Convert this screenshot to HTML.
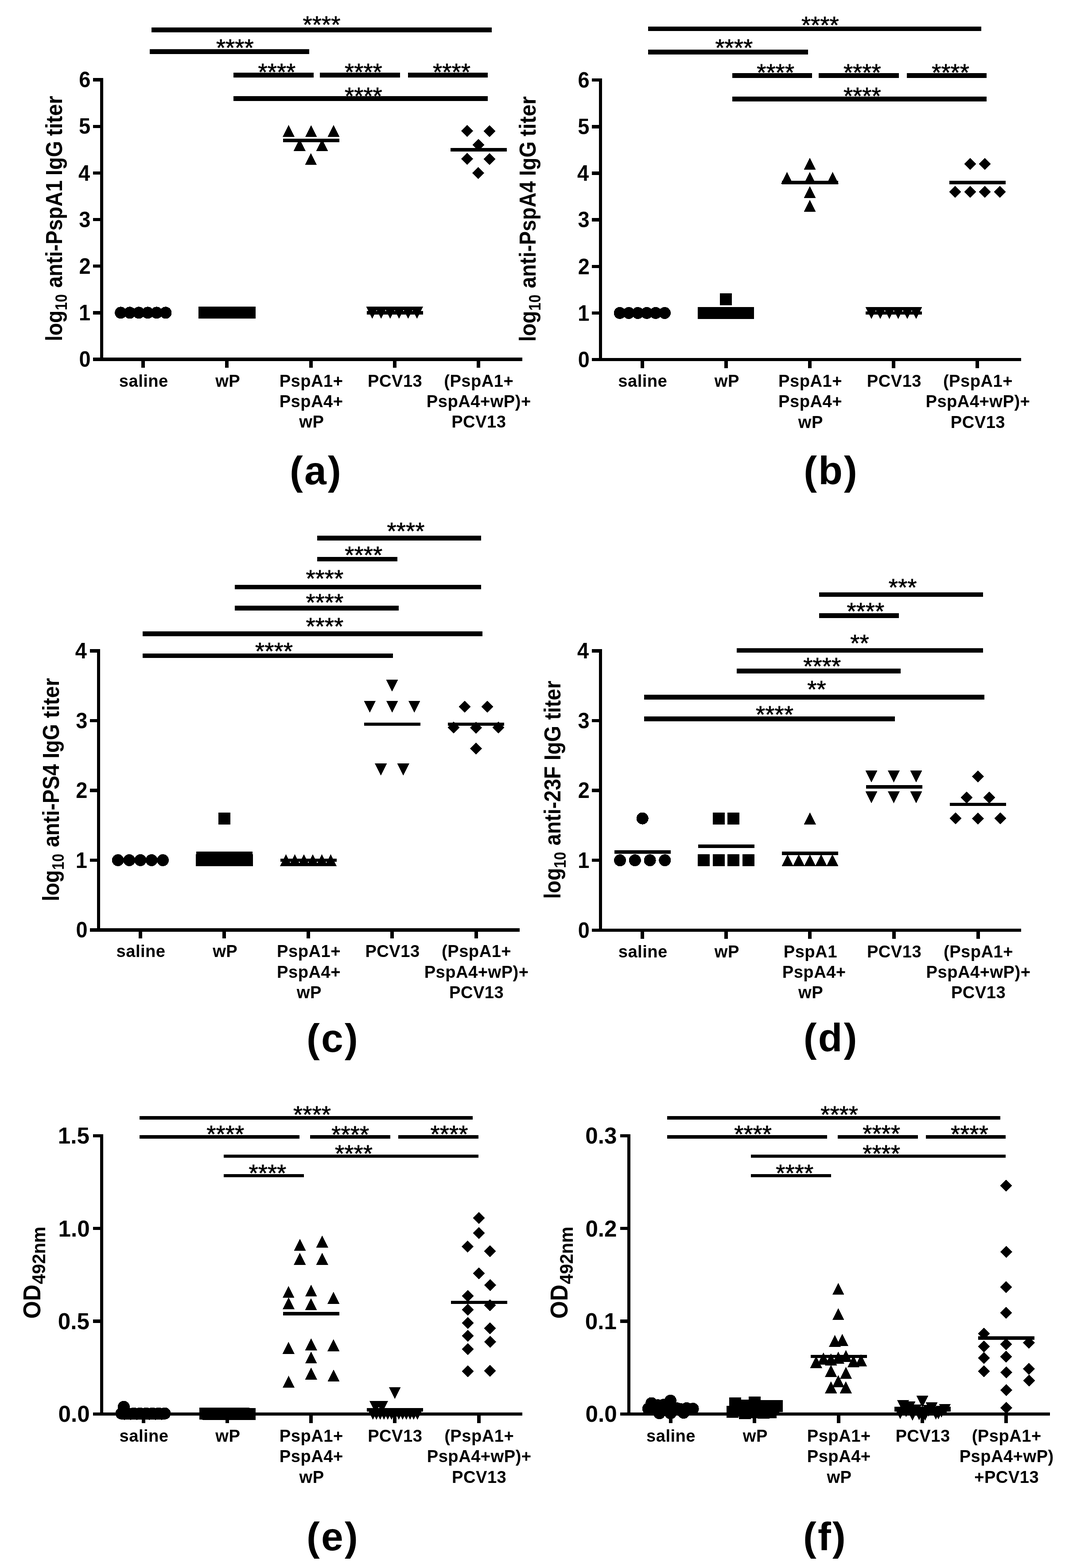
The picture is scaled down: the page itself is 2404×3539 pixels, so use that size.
<!DOCTYPE html>
<html lang="en"><head><meta charset="utf-8"><title>Figure: IgG titers and OD492nm panels (a)-(f)</title>
<style>html,body{margin:0;padding:0;background:#fff}svg{display:block}text{font-family:'Liberation Sans', Arial, Helvetica, sans-serif;font-weight:bold;fill:#000}.xl{letter-spacing:0.45px}.pl{letter-spacing:3.2px}.st{font-weight:normal;stroke:#000;stroke-width:0.8px}</style></head><body>
<svg width="2404" height="3539" viewBox="0 0 2404 3539" shape-rendering="crispEdges">
<rect x="0" y="0" width="2404" height="3539" fill="#fff"/>
<g fill="#000">
<!-- panel a -->
<rect x="225.8" y="176.4" width="7.4" height="638.3"/>
<rect x="210" y="807.3" width="968.8" height="7.4"/>
<rect x="210" y="807.3" width="19.5" height="7.4"/>
<text x="204.73" y="828.2" font-size="50" text-anchor="end" textLength="26.14" lengthAdjust="spacingAndGlyphs">0</text>
<rect x="210" y="702.15" width="19.5" height="7.4"/>
<text x="204.11" y="723.05" font-size="50" text-anchor="end" textLength="26.14" lengthAdjust="spacingAndGlyphs">1</text>
<rect x="210" y="597" width="19.5" height="7.4"/>
<text x="204.68" y="617.9" font-size="50" text-anchor="end" textLength="26.14" lengthAdjust="spacingAndGlyphs">2</text>
<rect x="210" y="491.85" width="19.5" height="7.4"/>
<text x="204.5" y="512.75" font-size="50" text-anchor="end" textLength="26.14" lengthAdjust="spacingAndGlyphs">3</text>
<rect x="210" y="386.7" width="19.5" height="7.4"/>
<text x="203.05" y="407.6" font-size="50" text-anchor="end" textLength="26.14" lengthAdjust="spacingAndGlyphs">4</text>
<rect x="210" y="281.55" width="19.5" height="7.4"/>
<text x="204.11" y="302.45" font-size="50" text-anchor="end" textLength="26.14" lengthAdjust="spacingAndGlyphs">5</text>
<rect x="210" y="176.4" width="19.5" height="7.4"/>
<text x="204.5" y="197.3" font-size="50" text-anchor="end" textLength="26.14" lengthAdjust="spacingAndGlyphs">6</text>
<rect x="319.3" y="811" width="8" height="19.2"/>
<rect x="508.4" y="811" width="8" height="19.2"/>
<rect x="697.6" y="811" width="8" height="19.2"/>
<rect x="886.7" y="811" width="8" height="19.2"/>
<rect x="1075.8" y="811" width="8" height="19.2"/>
<rect x="342" y="62" width="768" height="10.8"/>
<text x="726" y="74.31" font-size="54.5" text-anchor="middle" class="st">****</text>
<rect x="338" y="110.9" width="360" height="10.8"/>
<text x="530.3" y="125.51" font-size="54.5" text-anchor="middle" class="st">****</text>
<rect x="527" y="164" width="181" height="10.8"/>
<text x="624.9" y="181.21" font-size="54.5" text-anchor="middle" class="st">****</text>
<rect x="721.8" y="164" width="181.2" height="10.8"/>
<text x="820.4" y="181.21" font-size="54.5" text-anchor="middle" class="st">****</text>
<rect x="921" y="164" width="180" height="10.8"/>
<text x="1019.5" y="181.21" font-size="54.5" text-anchor="middle" class="st">****</text>
<rect x="527" y="217.4" width="574" height="10.8"/>
<text x="820.4" y="235.21" font-size="54.5" text-anchor="middle" class="st">****</text>
<circle cx="272.7" cy="705.85" r="13.5"/>
<circle cx="292.95" cy="705.85" r="13.5"/>
<circle cx="313.2" cy="705.85" r="13.5"/>
<circle cx="333.45" cy="705.85" r="13.5"/>
<circle cx="353.7" cy="705.85" r="13.5"/>
<circle cx="373.95" cy="705.85" r="13.5"/>
<rect x="448.3" y="692.35" width="27" height="27"/>
<rect x="468.55" y="692.35" width="27" height="27"/>
<rect x="488.8" y="692.35" width="27" height="27"/>
<rect x="509.05" y="692.35" width="27" height="27"/>
<rect x="529.3" y="692.35" width="27" height="27"/>
<rect x="549.55" y="692.35" width="27" height="27"/>
<polygon points="651.5,282.26 665,309.26 638,309.26"/>
<polygon points="702.2,282.26 715.7,309.26 688.7,309.26"/>
<polygon points="752.9,282.26 766.4,309.26 739.4,309.26"/>
<polygon points="676.3,313.81 689.8,340.81 662.8,340.81"/>
<polygon points="726.9,313.81 740.4,340.81 713.4,340.81"/>
<polygon points="701.6,345.36 715.1,372.36 688.1,372.36"/>
<rect x="639.1" y="312.99" width="127" height="7.6"/>
<polygon points="826.6,692.35 853.6,692.35 840.1,719.35"/>
<polygon points="846.85,692.35 873.85,692.35 860.35,719.35"/>
<polygon points="867.1,692.35 894.1,692.35 880.6,719.35"/>
<polygon points="887.35,692.35 914.35,692.35 900.85,719.35"/>
<polygon points="907.6,692.35 934.6,692.35 921.1,719.35"/>
<polygon points="927.85,692.35 954.85,692.35 941.35,719.35"/>
<rect x="827.7" y="702.05" width="127" height="7.6"/>
<polygon points="1054.6,282.26 1068.1,295.76 1054.6,309.26 1041.1,295.76"/>
<polygon points="1105,282.26 1118.5,295.76 1105,309.26 1091.5,295.76"/>
<polygon points="1079.8,313.81 1093.3,327.31 1079.8,340.81 1066.3,327.31"/>
<polygon points="1054.6,345.36 1068.1,358.86 1054.6,372.36 1041.1,358.86"/>
<polygon points="1105,345.36 1118.5,358.86 1105,372.36 1091.5,358.86"/>
<polygon points="1079.8,376.9 1093.3,390.4 1079.8,403.9 1066.3,390.4"/>
<rect x="1017.3" y="334.02" width="127" height="7.6"/>
<text x="324.3" y="872.5" font-size="38.2" text-anchor="middle" class="xl">saline</text>
<text x="514.2" y="872.5" font-size="38.2" text-anchor="middle" class="xl">wP</text>
<text x="702.6" y="872.5" font-size="38.2" text-anchor="middle" class="xl">PspA1+</text>
<text x="702.6" y="918.85" font-size="38.2" text-anchor="middle" class="xl">PspA4+</text>
<text x="703.4" y="965.2" font-size="38.2" text-anchor="middle" class="xl">wP</text>
<text x="891.7" y="872.5" font-size="38.2" text-anchor="middle" class="xl">PCV13</text>
<text x="1080.8" y="872.5" font-size="38.2" text-anchor="middle" class="xl">(PspA1+</text>
<text x="1080.8" y="918.85" font-size="38.2" text-anchor="middle" class="xl">PspA4+wP)+</text>
<text x="1080.8" y="965.2" font-size="38.2" text-anchor="middle" class="xl">PCV13</text>
<text x="713.4" y="1092.5" font-size="89.5" text-anchor="middle" class="pl">(a)</text>
<text transform="translate(140.1 770.12) rotate(-90)" font-size="51.2" text-anchor="start" textLength="69.21" lengthAdjust="spacingAndGlyphs">log</text>
<text transform="translate(151.1 700.26) rotate(-90)" font-size="37.8" text-anchor="start" textLength="36.4" lengthAdjust="spacingAndGlyphs">10</text>
<text transform="translate(140.1 649.46) rotate(-90)" font-size="51.2" text-anchor="start" textLength="242.55" lengthAdjust="spacingAndGlyphs">anti-PspA1</text>
<text transform="translate(140.1 396.24) rotate(-90)" font-size="51.2" text-anchor="start" textLength="78.14" lengthAdjust="spacingAndGlyphs">IgG</text>
<text transform="translate(140.1 306.78) rotate(-90)" font-size="51.2" text-anchor="start" textLength="90.41" lengthAdjust="spacingAndGlyphs">titer</text>
<!-- panel b -->
<rect x="1351.5" y="177" width="7.4" height="638.3"/>
<rect x="1336.2" y="807.9" width="968.6" height="7.4"/>
<rect x="1336.2" y="807.9" width="19" height="7.4"/>
<text x="1330.93" y="828.8" font-size="50" text-anchor="end" textLength="26.14" lengthAdjust="spacingAndGlyphs">0</text>
<rect x="1336.2" y="702.75" width="19" height="7.4"/>
<text x="1330.31" y="723.65" font-size="50" text-anchor="end" textLength="26.14" lengthAdjust="spacingAndGlyphs">1</text>
<rect x="1336.2" y="597.6" width="19" height="7.4"/>
<text x="1330.88" y="618.5" font-size="50" text-anchor="end" textLength="26.14" lengthAdjust="spacingAndGlyphs">2</text>
<rect x="1336.2" y="492.45" width="19" height="7.4"/>
<text x="1330.7" y="513.35" font-size="50" text-anchor="end" textLength="26.14" lengthAdjust="spacingAndGlyphs">3</text>
<rect x="1336.2" y="387.3" width="19" height="7.4"/>
<text x="1329.25" y="408.2" font-size="50" text-anchor="end" textLength="26.14" lengthAdjust="spacingAndGlyphs">4</text>
<rect x="1336.2" y="282.15" width="19" height="7.4"/>
<text x="1330.31" y="303.05" font-size="50" text-anchor="end" textLength="26.14" lengthAdjust="spacingAndGlyphs">5</text>
<rect x="1336.2" y="177" width="19" height="7.4"/>
<text x="1330.7" y="197.9" font-size="50" text-anchor="end" textLength="26.14" lengthAdjust="spacingAndGlyphs">6</text>
<rect x="1445.8" y="811.6" width="8" height="19.2"/>
<rect x="1635" y="811.6" width="8" height="19.2"/>
<rect x="1824" y="811.6" width="8" height="19.2"/>
<rect x="2013.4" y="811.6" width="8" height="19.2"/>
<rect x="2202.4" y="811.6" width="8" height="19.2"/>
<rect x="1463.1" y="59.5" width="752" height="10.8"/>
<text x="1851.3" y="74.81" font-size="54.5" text-anchor="middle" class="st">****</text>
<rect x="1463.1" y="111.9" width="360.5" height="10.8"/>
<text x="1656.8" y="126.01" font-size="54.5" text-anchor="middle" class="st">****</text>
<rect x="1653.1" y="164.8" width="179.7" height="10.8"/>
<text x="1750.6" y="182.01" font-size="54.5" text-anchor="middle" class="st">****</text>
<rect x="1848" y="164.8" width="180.9" height="10.8"/>
<text x="1946.3" y="182.01" font-size="54.5" text-anchor="middle" class="st">****</text>
<rect x="2046.8" y="164.8" width="180.1" height="10.8"/>
<text x="2145.6" y="182.01" font-size="54.5" text-anchor="middle" class="st">****</text>
<rect x="1653.1" y="218.2" width="573.8" height="10.8"/>
<text x="1946.3" y="235.21" font-size="54.5" text-anchor="middle" class="st">****</text>
<circle cx="1399.2" cy="706.45" r="13.5"/>
<circle cx="1419.45" cy="706.45" r="13.5"/>
<circle cx="1439.7" cy="706.45" r="13.5"/>
<circle cx="1459.95" cy="706.45" r="13.5"/>
<circle cx="1480.2" cy="706.45" r="13.5"/>
<circle cx="1500.45" cy="706.45" r="13.5"/>
<rect x="1574.9" y="692.95" width="27" height="27"/>
<rect x="1600" y="692.95" width="27" height="27"/>
<rect x="1625.1" y="692.95" width="27" height="27"/>
<rect x="1650.2" y="692.95" width="27" height="27"/>
<rect x="1675.3" y="692.95" width="27" height="27"/>
<rect x="1624.5" y="662.3" width="27" height="27"/>
<rect x="1576.5" y="697.39" width="124" height="7.6"/>
<polygon points="1828,356.47 1841.5,383.47 1814.5,383.47"/>
<polygon points="1776.7,388.01 1790.2,415.01 1763.2,415.01"/>
<polygon points="1828,388.01 1841.5,415.01 1814.5,415.01"/>
<polygon points="1879.3,388.01 1892.8,415.01 1865.8,415.01"/>
<polygon points="1828,419.56 1841.5,446.56 1814.5,446.56"/>
<polygon points="1828,451.11 1841.5,478.11 1814.5,478.11"/>
<rect x="1764.5" y="408.23" width="127" height="7.6"/>
<polygon points="1953.3,692.95 1980.3,692.95 1966.8,719.95"/>
<polygon points="1973.55,692.95 2000.55,692.95 1987.05,719.95"/>
<polygon points="1993.8,692.95 2020.8,692.95 2007.3,719.95"/>
<polygon points="2014.05,692.95 2041.05,692.95 2027.55,719.95"/>
<polygon points="2034.3,692.95 2061.3,692.95 2047.8,719.95"/>
<polygon points="2054.55,692.95 2081.55,692.95 2068.05,719.95"/>
<rect x="1954.2" y="702.65" width="127" height="7.6"/>
<polygon points="2189.6,356.47 2203.1,369.97 2189.6,383.47 2176.1,369.97"/>
<polygon points="2223.2,356.47 2236.7,369.97 2223.2,383.47 2209.7,369.97"/>
<polygon points="2156,419.56 2169.5,433.06 2156,446.56 2142.5,433.06"/>
<polygon points="2189.6,419.56 2203.1,433.06 2189.6,446.56 2176.1,433.06"/>
<polygon points="2223.2,419.56 2236.7,433.06 2223.2,446.56 2209.7,433.06"/>
<polygon points="2256.8,419.56 2270.3,433.06 2256.8,446.56 2243.3,433.06"/>
<rect x="2142.9" y="408.23" width="127" height="7.6"/>
<text x="1450.8" y="872.9" font-size="38.2" text-anchor="middle" class="xl">saline</text>
<text x="1640.8" y="872.9" font-size="38.2" text-anchor="middle" class="xl">wP</text>
<text x="1829" y="872.9" font-size="38.2" text-anchor="middle" class="xl">PspA1+</text>
<text x="1829" y="919.25" font-size="38.2" text-anchor="middle" class="xl">PspA4+</text>
<text x="1829.8" y="965.6" font-size="38.2" text-anchor="middle" class="xl">wP</text>
<text x="2018.4" y="872.9" font-size="38.2" text-anchor="middle" class="xl">PCV13</text>
<text x="2207.4" y="872.9" font-size="38.2" text-anchor="middle" class="xl">(PspA1+</text>
<text x="2207.4" y="919.25" font-size="38.2" text-anchor="middle" class="xl">PspA4+wP)+</text>
<text x="2207.4" y="965.6" font-size="38.2" text-anchor="middle" class="xl">PCV13</text>
<text x="1876.1" y="1092.5" font-size="89.5" text-anchor="middle" class="pl">(b)</text>
<text transform="translate(1209.1 771.12) rotate(-90)" font-size="51.2" text-anchor="start" textLength="69.21" lengthAdjust="spacingAndGlyphs">log</text>
<text transform="translate(1220.1 701.26) rotate(-90)" font-size="37.8" text-anchor="start" textLength="36.4" lengthAdjust="spacingAndGlyphs">10</text>
<text transform="translate(1209.1 650.45) rotate(-90)" font-size="51.2" text-anchor="start" textLength="241.5" lengthAdjust="spacingAndGlyphs">anti-PspA4</text>
<text transform="translate(1209.1 397.24) rotate(-90)" font-size="51.2" text-anchor="start" textLength="78.14" lengthAdjust="spacingAndGlyphs">IgG</text>
<text transform="translate(1209.1 307.78) rotate(-90)" font-size="51.2" text-anchor="start" textLength="90.41" lengthAdjust="spacingAndGlyphs">titer</text>
<!-- panel c -->
<rect x="218.6" y="1465.3" width="7.4" height="637.4"/>
<rect x="202.8" y="2095.3" width="970.2" height="7.4"/>
<rect x="202.8" y="2095.3" width="19.5" height="7.4"/>
<text x="197.53" y="2116.2" font-size="50" text-anchor="end" textLength="26.14" lengthAdjust="spacingAndGlyphs">0</text>
<rect x="202.8" y="1937.8" width="19.5" height="7.4"/>
<text x="196.91" y="1958.7" font-size="50" text-anchor="end" textLength="26.14" lengthAdjust="spacingAndGlyphs">1</text>
<rect x="202.8" y="1780.3" width="19.5" height="7.4"/>
<text x="197.48" y="1801.2" font-size="50" text-anchor="end" textLength="26.14" lengthAdjust="spacingAndGlyphs">2</text>
<rect x="202.8" y="1622.8" width="19.5" height="7.4"/>
<text x="197.3" y="1643.7" font-size="50" text-anchor="end" textLength="26.14" lengthAdjust="spacingAndGlyphs">3</text>
<rect x="202.8" y="1465.3" width="19.5" height="7.4"/>
<text x="195.85" y="1486.2" font-size="50" text-anchor="end" textLength="26.14" lengthAdjust="spacingAndGlyphs">4</text>
<rect x="313" y="2099" width="8" height="19.2"/>
<rect x="502.4" y="2099" width="8" height="19.2"/>
<rect x="692" y="2099" width="8" height="19.2"/>
<rect x="881" y="2099" width="8" height="19.2"/>
<rect x="1070.6" y="2099" width="8" height="19.2"/>
<rect x="716.1" y="1209.1" width="369.5" height="10.8"/>
<text x="916" y="1216.61" font-size="54.5" text-anchor="middle" class="st">****</text>
<rect x="716.1" y="1256.6" width="181.1" height="10.8"/>
<text x="820.7" y="1270.91" font-size="54.5" text-anchor="middle" class="st">****</text>
<rect x="529.9" y="1319.6" width="555.7" height="10.8"/>
<text x="732.8" y="1324.41" font-size="54.5" text-anchor="middle" class="st">****</text>
<rect x="529.9" y="1367.3" width="369.9" height="10.8"/>
<text x="732.8" y="1378.21" font-size="54.5" text-anchor="middle" class="st">****</text>
<rect x="322.1" y="1425" width="766.6" height="10.8"/>
<text x="732.8" y="1432.01" font-size="54.5" text-anchor="middle" class="st">****</text>
<rect x="322.1" y="1474.6" width="564.8" height="10.8"/>
<text x="618.5" y="1488.31" font-size="54.5" text-anchor="middle" class="st">****</text>
<circle cx="266.4" cy="1941.5" r="13.5"/>
<circle cx="291.7" cy="1941.5" r="13.5"/>
<circle cx="317" cy="1941.5" r="13.5"/>
<circle cx="342.3" cy="1941.5" r="13.5"/>
<circle cx="367.6" cy="1941.5" r="13.5"/>
<rect x="442.3" y="1928" width="27" height="27"/>
<rect x="467.6" y="1928" width="27" height="27"/>
<rect x="492.9" y="1928" width="27" height="27"/>
<rect x="518.2" y="1928" width="27" height="27"/>
<rect x="543.5" y="1928" width="27" height="27"/>
<rect x="492.9" y="1833.5" width="27" height="27"/>
<rect x="442.9" y="1921.95" width="127" height="7.6"/>
<polygon points="645.4,1928 658.9,1955 631.9,1955"/>
<polygon points="665.65,1928 679.15,1955 652.15,1955"/>
<polygon points="685.9,1928 699.4,1955 672.4,1955"/>
<polygon points="706.15,1928 719.65,1955 692.65,1955"/>
<polygon points="726.4,1928 739.9,1955 712.9,1955"/>
<polygon points="746.65,1928 760.15,1955 733.15,1955"/>
<rect x="632.5" y="1937.7" width="127" height="7.6"/>
<polygon points="871.5,1534.25 898.5,1534.25 885,1561.25"/>
<polygon points="821.1,1581.5 848.1,1581.5 834.6,1608.5"/>
<polygon points="871.5,1581.5 898.5,1581.5 885,1608.5"/>
<polygon points="921.9,1581.5 948.9,1581.5 935.4,1608.5"/>
<polygon points="846.3,1723.25 873.3,1723.25 859.8,1750.25"/>
<polygon points="896.7,1723.25 923.7,1723.25 910.2,1750.25"/>
<rect x="822" y="1630.58" width="127" height="7.6"/>
<polygon points="1049.3,1581.5 1062.8,1595 1049.3,1608.5 1035.8,1595"/>
<polygon points="1099.9,1581.5 1113.4,1595 1099.9,1608.5 1086.4,1595"/>
<polygon points="1024.2,1628.75 1037.7,1642.25 1024.2,1655.75 1010.7,1642.25"/>
<polygon points="1074.6,1628.75 1088.1,1642.25 1074.6,1655.75 1061.1,1642.25"/>
<polygon points="1125,1628.75 1138.5,1642.25 1125,1655.75 1111.5,1642.25"/>
<polygon points="1074.6,1676 1088.1,1689.5 1074.6,1703 1061.1,1689.5"/>
<rect x="1011.1" y="1630.58" width="127" height="7.6"/>
<text x="318" y="2160.3" font-size="38.2" text-anchor="middle" class="xl">saline</text>
<text x="508.2" y="2160.3" font-size="38.2" text-anchor="middle" class="xl">wP</text>
<text x="697" y="2160.3" font-size="38.2" text-anchor="middle" class="xl">PspA1+</text>
<text x="697" y="2206.65" font-size="38.2" text-anchor="middle" class="xl">PspA4+</text>
<text x="697.8" y="2253" font-size="38.2" text-anchor="middle" class="xl">wP</text>
<text x="886" y="2160.3" font-size="38.2" text-anchor="middle" class="xl">PCV13</text>
<text x="1075.6" y="2160.3" font-size="38.2" text-anchor="middle" class="xl">(PspA1+</text>
<text x="1075.6" y="2206.65" font-size="38.2" text-anchor="middle" class="xl">PspA4+wP)+</text>
<text x="1075.6" y="2253" font-size="38.2" text-anchor="middle" class="xl">PCV13</text>
<text x="751.4" y="2373.5" font-size="89.5" text-anchor="middle" class="pl">(c)</text>
<text transform="translate(133 2034.07) rotate(-90)" font-size="51.2" text-anchor="start" textLength="70.31" lengthAdjust="spacingAndGlyphs">log</text>
<text transform="translate(144 1963.16) rotate(-90)" font-size="37.8" text-anchor="start" textLength="36.29" lengthAdjust="spacingAndGlyphs">10</text>
<text transform="translate(133 1912.07) rotate(-90)" font-size="51.2" text-anchor="start" textLength="187.42" lengthAdjust="spacingAndGlyphs">anti-PS4</text>
<text transform="translate(133 1712.03) rotate(-90)" font-size="51.2" text-anchor="start" textLength="78.04" lengthAdjust="spacingAndGlyphs">IgG</text>
<text transform="translate(133 1620.38) rotate(-90)" font-size="51.2" text-anchor="start" textLength="90.1" lengthAdjust="spacingAndGlyphs">titer</text>
<!-- panel d -->
<rect x="1351.5" y="1465.2" width="7.4" height="637.8"/>
<rect x="1336.2" y="2095.6" width="968.6" height="7.4"/>
<rect x="1336.2" y="2095.6" width="19" height="7.4"/>
<text x="1330.93" y="2116.5" font-size="50" text-anchor="end" textLength="26.14" lengthAdjust="spacingAndGlyphs">0</text>
<rect x="1336.2" y="1938" width="19" height="7.4"/>
<text x="1330.31" y="1958.9" font-size="50" text-anchor="end" textLength="26.14" lengthAdjust="spacingAndGlyphs">1</text>
<rect x="1336.2" y="1780.4" width="19" height="7.4"/>
<text x="1330.88" y="1801.3" font-size="50" text-anchor="end" textLength="26.14" lengthAdjust="spacingAndGlyphs">2</text>
<rect x="1336.2" y="1622.8" width="19" height="7.4"/>
<text x="1330.7" y="1643.7" font-size="50" text-anchor="end" textLength="26.14" lengthAdjust="spacingAndGlyphs">3</text>
<rect x="1336.2" y="1465.2" width="19" height="7.4"/>
<text x="1329.25" y="1486.1" font-size="50" text-anchor="end" textLength="26.14" lengthAdjust="spacingAndGlyphs">4</text>
<rect x="1446.2" y="2099.3" width="8" height="19.2"/>
<rect x="1635" y="2099.3" width="8" height="19.2"/>
<rect x="1824.3" y="2099.3" width="8" height="19.2"/>
<rect x="2013.5" y="2099.3" width="8" height="19.2"/>
<rect x="2203.5" y="2099.3" width="8" height="19.2"/>
<rect x="1848.8" y="1336.6" width="370.1" height="10.8"/>
<text x="2037.6" y="1344.41" font-size="54.5" text-anchor="middle" class="st">***</text>
<rect x="1848.8" y="1383.8" width="180.1" height="10.8"/>
<text x="1953.8" y="1398.21" font-size="54.5" text-anchor="middle" class="st">****</text>
<rect x="1663" y="1462.6" width="555.9" height="10.8"/>
<text x="1940.5" y="1470.11" font-size="54.5" text-anchor="middle" class="st">**</text>
<rect x="1663" y="1509.4" width="369.7" height="10.8"/>
<text x="1855.7" y="1521.61" font-size="54.5" text-anchor="middle" class="st">****</text>
<rect x="1454" y="1567.7" width="767.9" height="10.8"/>
<text x="1843.5" y="1573.71" font-size="54.5" text-anchor="middle" class="st">**</text>
<rect x="1454" y="1617" width="565.8" height="10.8"/>
<text x="1748.5" y="1630.81" font-size="54.5" text-anchor="middle" class="st">****</text>
<circle cx="1399.6" cy="1941.7" r="13.5"/>
<circle cx="1433.3" cy="1941.7" r="13.5"/>
<circle cx="1467.1" cy="1941.7" r="13.5"/>
<circle cx="1500.8" cy="1941.7" r="13.5"/>
<circle cx="1450.2" cy="1847.14" r="13.5"/>
<rect x="1386.7" y="1918.99" width="127" height="7.6"/>
<rect x="1574.9" y="1928.2" width="27" height="27"/>
<rect x="1608.6" y="1928.2" width="27" height="27"/>
<rect x="1642.4" y="1928.2" width="27" height="27"/>
<rect x="1676.1" y="1928.2" width="27" height="27"/>
<rect x="1608.6" y="1833.64" width="27" height="27"/>
<rect x="1642.4" y="1833.64" width="27" height="27"/>
<rect x="1575.5" y="1906.38" width="127" height="7.6"/>
<polygon points="1777.7,1928.2 1791.2,1955.2 1764.2,1955.2"/>
<polygon points="1803,1928.2 1816.5,1955.2 1789.5,1955.2"/>
<polygon points="1828.3,1928.2 1841.8,1955.2 1814.8,1955.2"/>
<polygon points="1853.6,1928.2 1867.1,1955.2 1840.1,1955.2"/>
<polygon points="1878.9,1928.2 1892.4,1955.2 1865.4,1955.2"/>
<polygon points="1828.3,1833.64 1841.8,1860.64 1814.8,1860.64"/>
<rect x="1764.8" y="1922.14" width="127" height="7.6"/>
<polygon points="1953.5,1739.08 1980.5,1739.08 1967,1766.08"/>
<polygon points="1953.5,1786.36 1980.5,1786.36 1967,1813.36"/>
<polygon points="2004,1739.08 2031,1739.08 2017.5,1766.08"/>
<polygon points="2004,1786.36 2031,1786.36 2017.5,1813.36"/>
<polygon points="2054.5,1739.08 2081.5,1739.08 2068,1766.08"/>
<polygon points="2054.5,1786.36 2081.5,1786.36 2068,1813.36"/>
<rect x="1954.5" y="1772.42" width="127" height="7.6"/>
<polygon points="2207.5,1739.08 2221,1752.58 2207.5,1766.08 2194,1752.58"/>
<polygon points="2181.9,1786.36 2195.4,1799.86 2181.9,1813.36 2168.4,1799.86"/>
<polygon points="2233.1,1786.36 2246.6,1799.86 2233.1,1813.36 2219.6,1799.86"/>
<polygon points="2156.8,1833.64 2170.3,1847.14 2156.8,1860.64 2143.3,1847.14"/>
<polygon points="2207.5,1833.64 2221,1847.14 2207.5,1860.64 2194,1847.14"/>
<polygon points="2258.2,1833.64 2271.7,1847.14 2258.2,1860.64 2244.7,1847.14"/>
<rect x="2144" y="1811.82" width="127" height="7.6"/>
<text x="1451.2" y="2160.6" font-size="38.2" text-anchor="middle" class="xl">saline</text>
<text x="1640.8" y="2160.6" font-size="38.2" text-anchor="middle" class="xl">wP</text>
<text x="1829.3" y="2160.6" font-size="38.2" text-anchor="middle" class="xl">PspA1</text>
<text x="1837.7" y="2206.95" font-size="38.2" text-anchor="middle" class="xl">PspA4+</text>
<text x="1830.1" y="2253.3" font-size="38.2" text-anchor="middle" class="xl">wP</text>
<text x="2018.5" y="2160.6" font-size="38.2" text-anchor="middle" class="xl">PCV13</text>
<text x="2208.5" y="2160.6" font-size="38.2" text-anchor="middle" class="xl">(PspA1+</text>
<text x="2208.5" y="2206.95" font-size="38.2" text-anchor="middle" class="xl">PspA4+wP)+</text>
<text x="2208.5" y="2253.3" font-size="38.2" text-anchor="middle" class="xl">PCV13</text>
<text x="1875.8" y="2373.4" font-size="89.5" text-anchor="middle" class="pl">(d)</text>
<text transform="translate(1265 2028.54) rotate(-90)" font-size="51.2" text-anchor="start" textLength="69.54" lengthAdjust="spacingAndGlyphs">log</text>
<text transform="translate(1277 1959.27) rotate(-90)" font-size="37.8" text-anchor="start" textLength="36.62" lengthAdjust="spacingAndGlyphs">10</text>
<text transform="translate(1265 1908.17) rotate(-90)" font-size="51.2" text-anchor="start" textLength="178.77" lengthAdjust="spacingAndGlyphs">anti-23F</text>
<text transform="translate(1265 1716.13) rotate(-90)" font-size="51.2" text-anchor="start" textLength="78.04" lengthAdjust="spacingAndGlyphs">IgG</text>
<text transform="translate(1265 1624.57) rotate(-90)" font-size="51.2" text-anchor="start" textLength="88.18" lengthAdjust="spacingAndGlyphs">titer</text>
<!-- panel e -->
<rect x="225.7" y="2559.6" width="7.4" height="635.3"/>
<rect x="210.4" y="3187.5" width="968.3" height="7.4"/>
<rect x="210.4" y="3187.5" width="19" height="7.4"/>
<text x="202.7" y="3209.26" font-size="52.5" text-anchor="end" textLength="71.16" lengthAdjust="spacingAndGlyphs">0.0</text>
<rect x="210.4" y="2978.2" width="19" height="7.4"/>
<text x="202.02" y="2999.96" font-size="52.5" text-anchor="end" textLength="71.16" lengthAdjust="spacingAndGlyphs">0.5</text>
<rect x="210.4" y="2768.9" width="19" height="7.4"/>
<text x="202.7" y="2790.66" font-size="52.5" text-anchor="end" textLength="71.16" lengthAdjust="spacingAndGlyphs">1.0</text>
<rect x="210.4" y="2559.6" width="19" height="7.4"/>
<text x="202.02" y="2581.36" font-size="52.5" text-anchor="end" textLength="71.16" lengthAdjust="spacingAndGlyphs">1.5</text>
<rect x="320" y="3191.2" width="8" height="20.8"/>
<rect x="508.6" y="3191.2" width="8" height="20.8"/>
<rect x="697.8" y="3191.2" width="8" height="20.8"/>
<rect x="886.8" y="3191.2" width="8" height="20.8"/>
<rect x="1076.7" y="3191.2" width="8" height="20.8"/>
<rect x="314.8" y="2519.3" width="752.2" height="7.6"/>
<text x="704.5" y="2534.41" font-size="54.5" text-anchor="middle" class="st">****</text>
<rect x="314.8" y="2562.3" width="361.2" height="7.6"/>
<text x="508.7" y="2578.41" font-size="54.5" text-anchor="middle" class="st">****</text>
<rect x="699.9" y="2562.3" width="180.9" height="7.6"/>
<text x="790.7" y="2579.01" font-size="54.5" text-anchor="middle" class="st">****</text>
<rect x="898.9" y="2562.4" width="181.2" height="7.6"/>
<text x="1014" y="2578.41" font-size="54.5" text-anchor="middle" class="st">****</text>
<rect x="504.9" y="2605.6" width="575.2" height="7.6"/>
<text x="798.5" y="2622.41" font-size="54.5" text-anchor="middle" class="st">****</text>
<rect x="504.9" y="2649.8" width="180.9" height="7.6"/>
<text x="603.9" y="2666.21" font-size="54.5" text-anchor="middle" class="st">****</text>
<circle cx="274" cy="3190.2" r="13.5"/>
<circle cx="281" cy="3191.1" r="13.5"/>
<circle cx="288" cy="3190.2" r="13.5"/>
<circle cx="295" cy="3191.1" r="13.5"/>
<circle cx="302" cy="3190.2" r="13.5"/>
<circle cx="309" cy="3191.1" r="13.5"/>
<circle cx="316" cy="3190.2" r="13.5"/>
<circle cx="323" cy="3191.1" r="13.5"/>
<circle cx="330" cy="3190.2" r="13.5"/>
<circle cx="337" cy="3191.1" r="13.5"/>
<circle cx="344" cy="3190.2" r="13.5"/>
<circle cx="351" cy="3191.1" r="13.5"/>
<circle cx="358" cy="3190.2" r="13.5"/>
<circle cx="365" cy="3191.1" r="13.5"/>
<circle cx="372" cy="3190.2" r="13.5"/>
<circle cx="279.4" cy="3175.3" r="13.5"/>
<rect x="449.5" y="3176.8" width="27" height="27"/>
<rect x="456.7" y="3177.8" width="27" height="27"/>
<rect x="463.9" y="3177.8" width="27" height="27"/>
<rect x="471.1" y="3176.8" width="27" height="27"/>
<rect x="478.3" y="3177.8" width="27" height="27"/>
<rect x="485.5" y="3177.8" width="27" height="27"/>
<rect x="492.7" y="3176.8" width="27" height="27"/>
<rect x="499.9" y="3177.8" width="27" height="27"/>
<rect x="507.1" y="3177.8" width="27" height="27"/>
<rect x="514.3" y="3176.8" width="27" height="27"/>
<rect x="521.5" y="3177.8" width="27" height="27"/>
<rect x="528.7" y="3177.8" width="27" height="27"/>
<rect x="535.9" y="3176.8" width="27" height="27"/>
<rect x="543.1" y="3177.8" width="27" height="27"/>
<rect x="550.3" y="3177.8" width="27" height="27"/>
<polygon points="651.3,2902.4 664.8,2929.4 637.8,2929.4"/>
<polygon points="651.3,2928.1 664.8,2955.1 637.8,2955.1"/>
<polygon points="702.2,2899.2 715.7,2926.2 688.7,2926.2"/>
<polygon points="702.2,2930 715.7,2957 688.7,2957"/>
<polygon points="752.8,2915.5 766.3,2942.5 739.3,2942.5"/>
<polygon points="651.3,3028.8 664.8,3055.8 637.8,3055.8"/>
<polygon points="702.2,3020.8 715.7,3047.8 688.7,3047.8"/>
<polygon points="752.8,3022.7 766.3,3049.7 739.3,3049.7"/>
<polygon points="702.2,3050.2 715.7,3077.2 688.7,3077.2"/>
<polygon points="702.2,3086.5 715.7,3113.5 688.7,3113.5"/>
<polygon points="752.8,3091.1 766.3,3118.1 739.3,3118.1"/>
<polygon points="651.3,3105.1 664.8,3132.1 637.8,3132.1"/>
<polygon points="676.8,2796 690.3,2823 663.3,2823"/>
<polygon points="727.3,2788.7 740.8,2815.7 713.8,2815.7"/>
<polygon points="676.8,2827.9 690.3,2854.9 663.3,2854.9"/>
<polygon points="727.3,2827.9 740.8,2854.9 713.8,2854.9"/>
<rect x="639.1" y="2961.2" width="127" height="7.6"/>
<polygon points="877.9,3130.5 904.9,3130.5 891.4,3157.5"/>
<polygon points="834.2,3162.2 861.2,3162.2 847.7,3189.2"/>
<polygon points="848.7,3162.2 875.7,3162.2 862.2,3189.2"/>
<polygon points="828,3177.5 855,3177.5 841.5,3204.5"/>
<polygon points="836.4,3177.5 863.4,3177.5 849.9,3204.5"/>
<polygon points="844.8,3177.5 871.8,3177.5 858.3,3204.5"/>
<polygon points="853.2,3177.5 880.2,3177.5 866.7,3204.5"/>
<polygon points="861.6,3177.5 888.6,3177.5 875.1,3204.5"/>
<polygon points="870,3177.5 897,3177.5 883.5,3204.5"/>
<polygon points="878.4,3177.5 905.4,3177.5 891.9,3204.5"/>
<polygon points="886.8,3177.5 913.8,3177.5 900.3,3204.5"/>
<polygon points="895.2,3177.5 922.2,3177.5 908.7,3204.5"/>
<polygon points="903.6,3177.5 930.6,3177.5 917.1,3204.5"/>
<polygon points="912,3177.5 939,3177.5 925.5,3204.5"/>
<polygon points="920.4,3177.5 947.4,3177.5 933.9,3204.5"/>
<polygon points="928.8,3177.5 955.8,3177.5 942.3,3204.5"/>
<rect x="827.8" y="3178.4" width="127" height="7.6"/>
<polygon points="1080.7,2735.6 1094.2,2749.1 1080.7,2762.6 1067.2,2749.1"/>
<polygon points="1080.7,2769.7 1094.2,2783.2 1080.7,2796.7 1067.2,2783.2"/>
<polygon points="1055.2,2800.1 1068.7,2813.6 1055.2,2827.1 1041.7,2813.6"/>
<polygon points="1106.1,2810.8 1119.6,2824.3 1106.1,2837.8 1092.6,2824.3"/>
<polygon points="1080.7,2860.4 1094.2,2873.9 1080.7,2887.4 1067.2,2873.9"/>
<polygon points="1106.1,2887 1119.6,2900.5 1106.1,2914 1092.6,2900.5"/>
<polygon points="1056,2911.4 1069.5,2924.9 1056,2938.4 1042.5,2924.9"/>
<polygon points="1106.1,2932.6 1119.6,2946.1 1106.1,2959.6 1092.6,2946.1"/>
<polygon points="1056,2942.1 1069.5,2955.6 1056,2969.1 1042.5,2955.6"/>
<polygon points="1056,2972.2 1069.5,2985.7 1056,2999.2 1042.5,2985.7"/>
<polygon points="1106.1,2984.7 1119.6,2998.2 1106.1,3011.7 1092.6,2998.2"/>
<polygon points="1056,3001.8 1069.5,3015.3 1056,3028.8 1042.5,3015.3"/>
<polygon points="1106.1,3015.1 1119.6,3028.6 1106.1,3042.1 1092.6,3028.6"/>
<polygon points="1056,3031.4 1069.5,3044.9 1056,3058.4 1042.5,3044.9"/>
<polygon points="1056,3081.6 1069.5,3095.1 1056,3108.6 1042.5,3095.1"/>
<polygon points="1106.1,3080.4 1119.6,3093.9 1106.1,3107.4 1092.6,3093.9"/>
<rect x="1017.7" y="2935.5" width="127" height="7.6"/>
<text x="325" y="3254" font-size="38.2" text-anchor="middle" class="xl">saline</text>
<text x="514.4" y="3254" font-size="38.2" text-anchor="middle" class="xl">wP</text>
<text x="702.8" y="3254" font-size="38.2" text-anchor="middle" class="xl">PspA1+</text>
<text x="702.8" y="3300.35" font-size="38.2" text-anchor="middle" class="xl">PspA4+</text>
<text x="703.6" y="3346.7" font-size="38.2" text-anchor="middle" class="xl">wP</text>
<text x="891.8" y="3254" font-size="38.2" text-anchor="middle" class="xl">PCV13</text>
<text x="1081.7" y="3254" font-size="38.2" text-anchor="middle" class="xl">(PspA1+</text>
<text x="1081.7" y="3300.35" font-size="38.2" text-anchor="middle" class="xl">PspA4+wP)+</text>
<text x="1081.7" y="3346.7" font-size="38.2" text-anchor="middle" class="xl">PCV13</text>
<text x="751.6" y="3498.9" font-size="89.5" text-anchor="middle" class="pl">(e)</text>
<text transform="translate(90.5 2976.2) rotate(-90)" font-size="54.7" text-anchor="start" textLength="76.85" lengthAdjust="spacingAndGlyphs">OD</text>
<text transform="translate(102.2 2898.32) rotate(-90)" font-size="42" text-anchor="start" textLength="129.86" lengthAdjust="spacingAndGlyphs">492nm</text>
<!-- panel f -->
<rect x="1415.7" y="2559.6" width="7.4" height="635.3"/>
<rect x="1400.3" y="3187.5" width="969.7" height="7.4"/>
<rect x="1400.3" y="3187.5" width="19.1" height="7.4"/>
<text x="1392.6" y="3209.26" font-size="52.5" text-anchor="end" textLength="71.16" lengthAdjust="spacingAndGlyphs">0.0</text>
<rect x="1400.3" y="2978.2" width="19.1" height="7.4"/>
<text x="1391.92" y="2999.96" font-size="52.5" text-anchor="end" textLength="71.16" lengthAdjust="spacingAndGlyphs">0.1</text>
<rect x="1400.3" y="2768.9" width="19.1" height="7.4"/>
<text x="1392.55" y="2790.66" font-size="52.5" text-anchor="end" textLength="71.16" lengthAdjust="spacingAndGlyphs">0.2</text>
<rect x="1400.3" y="2559.6" width="19.1" height="7.4"/>
<text x="1392.35" y="2581.36" font-size="52.5" text-anchor="end" textLength="71.16" lengthAdjust="spacingAndGlyphs">0.3</text>
<rect x="1509.5" y="3191.2" width="8" height="20.8"/>
<rect x="1699.1" y="3191.2" width="8" height="20.8"/>
<rect x="1888.7" y="3191.2" width="8" height="20.8"/>
<rect x="2078" y="3191.2" width="8" height="20.8"/>
<rect x="2267.2" y="3191.2" width="8" height="20.8"/>
<rect x="1506.3" y="2519.3" width="751.9" height="7.6"/>
<text x="1894.6" y="2534.41" font-size="54.5" text-anchor="middle" class="st">****</text>
<rect x="1506.3" y="2562.3" width="360.6" height="7.6"/>
<text x="1699.6" y="2578.41" font-size="54.5" text-anchor="middle" class="st">****</text>
<rect x="1891.1" y="2562.4" width="180.9" height="7.6"/>
<text x="1989.6" y="2576.51" font-size="54.5" text-anchor="middle" class="st">****</text>
<rect x="2089.9" y="2562.4" width="180.3" height="7.6"/>
<text x="2188.5" y="2578.41" font-size="54.5" text-anchor="middle" class="st">****</text>
<rect x="1694.9" y="2605.6" width="575.3" height="7.6"/>
<text x="1989.6" y="2622.41" font-size="54.5" text-anchor="middle" class="st">****</text>
<rect x="1694.9" y="2649.8" width="181.1" height="7.6"/>
<text x="1793.7" y="2666.21" font-size="54.5" text-anchor="middle" class="st">****</text>
<circle cx="1463.3" cy="3179.5" r="13.5"/>
<circle cx="1470.6" cy="3167" r="13.5"/>
<circle cx="1485" cy="3171.6" r="13.5"/>
<circle cx="1488.4" cy="3189.8" r="13.5"/>
<circle cx="1498.7" cy="3170.4" r="13.5"/>
<circle cx="1513.5" cy="3161.3" r="13.5"/>
<circle cx="1513.5" cy="3189.8" r="13.5"/>
<circle cx="1527.2" cy="3178.4" r="13.5"/>
<circle cx="1543.1" cy="3188.7" r="13.5"/>
<circle cx="1550" cy="3178.4" r="13.5"/>
<circle cx="1564.1" cy="3179.5" r="13.5"/>
<circle cx="1476" cy="3182" r="13.5"/>
<circle cx="1501" cy="3183" r="13.5"/>
<circle cx="1535" cy="3180" r="13.5"/>
<circle cx="1556" cy="3182" r="13.5"/>
<circle cx="1512.3" cy="3176" r="13.5"/>
<rect x="1640" y="3172.9" width="27" height="27"/>
<rect x="1645.7" y="3153.7" width="27" height="27"/>
<rect x="1689.9" y="3152.1" width="27" height="27"/>
<rect x="1740.1" y="3160.1" width="27" height="27"/>
<rect x="1667.5" y="3176.3" width="27" height="27"/>
<rect x="1725.9" y="3174.2" width="27" height="27"/>
<rect x="1659.5" y="3162.5" width="27" height="27"/>
<rect x="1675.5" y="3164.9" width="27" height="27"/>
<rect x="1702.9" y="3162.5" width="27" height="27"/>
<rect x="1714.3" y="3164.9" width="27" height="27"/>
<rect x="1709.7" y="3175.2" width="27" height="27"/>
<rect x="1686.5" y="3173.5" width="27" height="27"/>
<rect x="1731.5" y="3164.5" width="27" height="27"/>
<rect x="1651.5" y="3169.5" width="27" height="27"/>
<rect x="1713.2" y="3160.1" width="27" height="27"/>
<rect x="1667.8" y="3159" width="27" height="27"/>
<polygon points="1892.3,2895.4 1905.8,2922.4 1878.8,2922.4"/>
<polygon points="1892.3,2952.4 1905.8,2979.4 1878.8,2979.4"/>
<polygon points="1884.4,3012.8 1897.9,3039.8 1870.9,3039.8"/>
<polygon points="1901,3010.5 1914.5,3037.5 1887.5,3037.5"/>
<polygon points="1842.4,3060.7 1855.9,3087.7 1828.9,3087.7"/>
<polygon points="1858.8,3052.9 1872.3,3079.9 1845.3,3079.9"/>
<polygon points="1875.9,3054.7 1889.4,3081.7 1862.4,3081.7"/>
<polygon points="1892.3,3050.6 1905.8,3077.6 1878.8,3077.6"/>
<polygon points="1909.4,3047.2 1922.9,3074.2 1895.9,3074.2"/>
<polygon points="1926.5,3058.6 1940,3085.6 1913,3085.6"/>
<polygon points="1943.6,3057 1957.1,3084 1930.1,3084"/>
<polygon points="1875.9,3080.5 1889.4,3107.5 1862.4,3107.5"/>
<polygon points="1909.4,3084.8 1922.9,3111.8 1895.9,3111.8"/>
<polygon points="1892.3,3103.8 1905.8,3130.8 1878.8,3130.8"/>
<polygon points="1875.9,3117.7 1889.4,3144.7 1862.4,3144.7"/>
<polygon points="1909.4,3117.7 1922.9,3144.7 1895.9,3144.7"/>
<rect x="1829.5" y="3057.5" width="127" height="7.6"/>
<polygon points="2068.5,3149.6 2095.5,3149.6 2082,3176.6"/>
<polygon points="2025.2,3160.1 2052.2,3160.1 2038.7,3187.1"/>
<polygon points="2039.5,3162.5 2066.5,3162.5 2053,3189.5"/>
<polygon points="2089.7,3165.1 2116.7,3165.1 2103.2,3192.1"/>
<polygon points="2119.4,3168.7 2146.4,3168.7 2132.9,3195.7"/>
<polygon points="2018.6,3176 2045.6,3176 2032.1,3203"/>
<polygon points="2046.4,3179.3 2073.4,3179.3 2059.9,3206.3"/>
<polygon points="2061.2,3178.5 2088.2,3178.5 2074.7,3205.5"/>
<polygon points="2074.9,3179.3 2101.9,3179.3 2088.4,3206.3"/>
<polygon points="2098.9,3177 2125.9,3177 2112.4,3204"/>
<polygon points="2104.6,3176.5 2131.6,3176.5 2118.1,3203.5"/>
<polygon points="2031.5,3171.5 2058.5,3171.5 2045,3198.5"/>
<polygon points="2082.5,3170.5 2109.5,3170.5 2096,3197.5"/>
<polygon points="2111.5,3172.5 2138.5,3172.5 2125,3199.5"/>
<polygon points="2053.5,3169.5 2080.5,3169.5 2067,3196.5"/>
<rect x="2019.2" y="3175" width="127" height="11"/>
<polygon points="2271.2,2662.6 2284.7,2676.1 2271.2,2689.6 2257.7,2676.1"/>
<polygon points="2271.2,2811.9 2284.7,2825.4 2271.2,2838.9 2257.7,2825.4"/>
<polygon points="2271.2,2891.6 2284.7,2905.1 2271.2,2918.6 2257.7,2905.1"/>
<polygon points="2271.2,2949.7 2284.7,2963.2 2271.2,2976.7 2257.7,2963.2"/>
<polygon points="2221,2996.1 2234.5,3009.6 2221,3023.1 2207.5,3009.6"/>
<polygon points="2221,3025.7 2234.5,3039.2 2221,3052.7 2207.5,3039.2"/>
<polygon points="2271.2,3020.8 2284.7,3034.3 2271.2,3047.8 2257.7,3034.3"/>
<polygon points="2322.5,3017 2336,3030.5 2322.5,3044 2309,3030.5"/>
<polygon points="2221,3051.2 2234.5,3064.7 2221,3078.2 2207.5,3064.7"/>
<polygon points="2271.2,3048.5 2284.7,3062 2271.2,3075.5 2257.7,3062"/>
<polygon points="2221,3081.6 2234.5,3095.1 2221,3108.6 2207.5,3095.1"/>
<polygon points="2271.2,3084.2 2284.7,3097.7 2271.2,3111.2 2257.7,3097.7"/>
<polygon points="2322.5,3075.9 2336,3089.4 2322.5,3102.9 2309,3089.4"/>
<polygon points="2322.5,3102.5 2336,3116 2322.5,3129.5 2309,3116"/>
<polygon points="2271.2,3124.1 2284.7,3137.6 2271.2,3151.1 2257.7,3137.6"/>
<polygon points="2271.2,3164 2284.7,3177.5 2271.2,3191 2257.7,3177.5"/>
<rect x="2208" y="3016.4" width="127" height="7.6"/>
<text x="1514.5" y="3254" font-size="38.2" text-anchor="middle" class="xl">saline</text>
<text x="1704.9" y="3254" font-size="38.2" text-anchor="middle" class="xl">wP</text>
<text x="1893.7" y="3254" font-size="38.2" text-anchor="middle" class="xl">PspA1+</text>
<text x="1893.7" y="3300.35" font-size="38.2" text-anchor="middle" class="xl">PspA4+</text>
<text x="1894.5" y="3346.7" font-size="38.2" text-anchor="middle" class="xl">wP</text>
<text x="2083" y="3254" font-size="38.2" text-anchor="middle" class="xl">PCV13</text>
<text x="2272.2" y="3254" font-size="38.2" text-anchor="middle" class="xl">(PspA1+</text>
<text x="2272.2" y="3300.35" font-size="38.2" text-anchor="middle" class="xl">PspA4+wP)</text>
<text x="2272.2" y="3346.7" font-size="38.2" text-anchor="middle" class="xl">+PCV13</text>
<text x="1862.6" y="3498.9" font-size="89.5" text-anchor="middle" class="pl">(f)</text>
<text transform="translate(1281 2976.2) rotate(-90)" font-size="54.7" text-anchor="start" textLength="76.85" lengthAdjust="spacingAndGlyphs">OD</text>
<text transform="translate(1292.8 2898.32) rotate(-90)" font-size="42" text-anchor="start" textLength="129.86" lengthAdjust="spacingAndGlyphs">492nm</text>
</g></svg></body></html>
